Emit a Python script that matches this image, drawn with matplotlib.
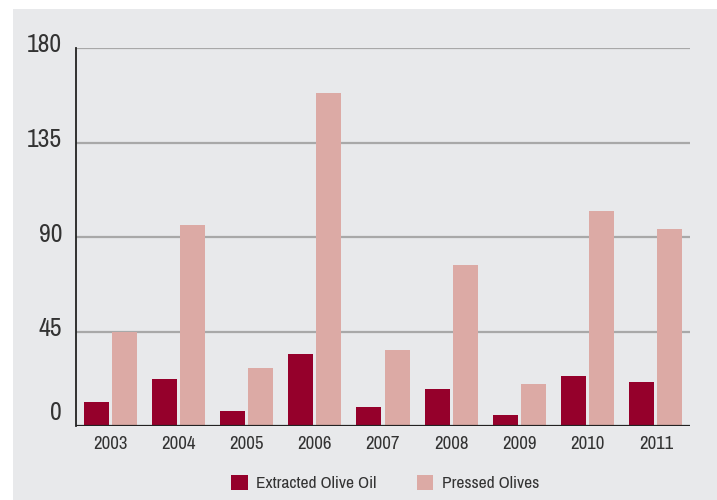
import matplotlib
matplotlib.use("Agg")
import matplotlib.pyplot as plt
import matplotlib.transforms as mtransforms
from matplotlib.patches import Rectangle, Patch
from matplotlib import font_manager
import numpy as np

years = ["2003", "2004", "2005", "2006", "2007", "2008", "2009", "2010", "2011"]
extracted_oil = [11.4, 22.2, 7.0, 34.1, 8.9, 17.5, 5.2, 23.8, 20.9]
pressed_olives = [44.9, 95.5, 27.4, 158.8, 36.0, 76.6, 20.0, 102.3, 93.7]
y_ticks = [0, 45, 90, 135, 180]
series_names = ["Extracted Olive Oil", "Pressed Olives"]

names = {f.name for f in font_manager.fontManager.ttflist}
family = next((n for n in ["Archivo Narrow", "Barlow Semi Condensed", "Liberation Sans Narrow"] if n in names), "DejaVu Sans")
plt.rcParams["font.family"] = [family, "DejaVu Sans"]

dark = "#95002b"
light = "#dcaaa5"
bg = "#e8e9eb"
txt = "#333333"

fig = plt.figure(figsize=(7.17, 5.0), dpi=100, facecolor="white")
bgrect = Rectangle((13 / 717, 0), 1, 1 - 9 / 500, transform=fig.transFigure,
                   facecolor=bg, edgecolor="none", zorder=-10)
fig.add_artist(bgrect)

ax = fig.add_axes([76 / 717, 1 - 426 / 500, (690 - 76) / 717, (426 - 48) / 500])
ax.patch.set_alpha(0)

x = np.arange(len(years))
bw = 0.366
off = 0.206
ax.bar(x - off, extracted_oil, width=bw, color=dark, zorder=3)
ax.bar(x + off, pressed_olives, width=bw, color=light, zorder=3)

ax.set_xlim(-0.5, len(years) - 0.5)
ax.set_ylim(0, 180)

for t in y_ticks[1:]:
    ax.axhline(t, color="#a8a8a8", lw=1.6, zorder=1)
ax.axhline(0, color="#222222", lw=1.6, zorder=4)

for s in ["top", "right", "bottom"]:
    ax.spines[s].set_visible(False)
ax.spines["left"].set_color("#222222")
ax.spines["left"].set_linewidth(1.3)

ax.set_yticks(y_ticks)
ax.set_yticklabels([str(t) for t in y_ticks], fontsize=18.5, color=txt)
ax.tick_params(axis="y", length=0, pad=10)
for lab, t in zip(ax.get_yticklabels(), y_ticks):
    dy = 16 if t == 0 else 5
    lab.set_transform(lab.get_transform() + mtransforms.ScaledTranslation(0, dy / 100, fig.dpi_scale_trans))

ax.set_xticks(x)
ax.set_xticklabels(years, fontsize=13.5, color=txt)
ax.tick_params(axis="x", length=0, pad=7)

handles = [Patch(facecolor=dark, edgecolor="none"), Patch(facecolor=light, edgecolor="none")]
fig.legend(handles, series_names, loc="center", bbox_to_anchor=(385 / 717, 1 - 483 / 500),
           ncol=2, frameon=False, fontsize=12.5, handlelength=0.95, handleheight=0.95,
           handletextpad=0.5, columnspacing=2.3, labelcolor=txt)

fig.savefig("out.png", dpi=100, facecolor="white")
